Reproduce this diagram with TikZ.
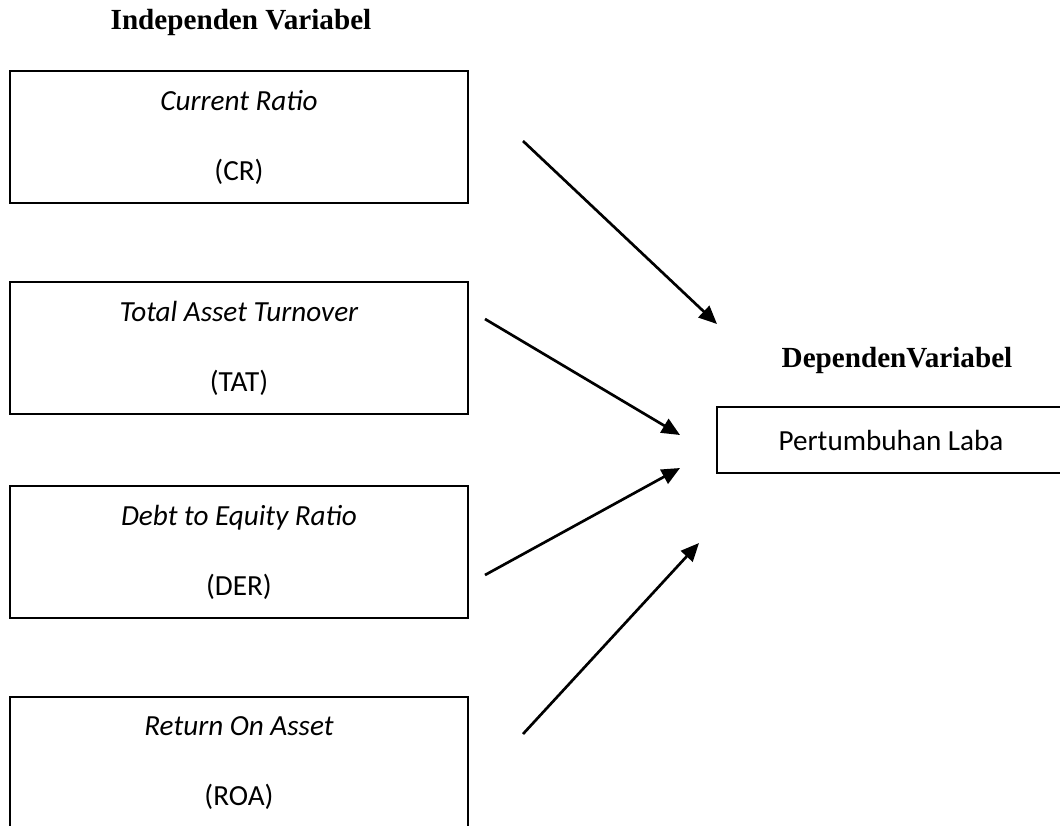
\documentclass[tikz,border=0pt]{standalone}
\usepackage{fontspec}
\setmainfont{Liberation Serif}
\newfontfamily\calibri{Carlito}
\usetikzlibrary{arrows.meta,positioning}

\begin{document}
\begin{tikzpicture}[x=0.4115pt,y=-0.4115pt,
  varbox/.style={draw,line width=0.8pt,minimum width=188.5pt,minimum height=54.3pt,
    inner sep=0pt,align=center,font=\calibri\fontsize{12}{14.4}\selectfont},
  depbox/.style={draw,line width=0.8pt,minimum width=143.2pt,minimum height=27.2pt,
    inner sep=0pt,font=\calibri\fontsize{12}{14.4}\selectfont},
  head/.style={font=\bfseries\fontsize{12}{14.4}\selectfont},
  arr/.style={-{Triangle[length=7.5pt,width=6.5pt]},line width=1.1pt}]
  \clip (0,0) rectangle (1060,825);

  % Independent variables
  \node[head] (indep) at (241,22) {Independen Variabel};
  \foreach \y/\nm/\lbl/\abbr in {137/cr/Current Ratio/CR,348/tat/Total Asset Turnover/TAT,
      552/der/Debt to Equity Ratio/DER,763/roa/Return On Asset/ROA}{
    \node[varbox] (\nm) at (239,\y) {\textit{\lbl}\\[14.4pt](\abbr)};
  }

  % Dependent variable
  \node[head] (dep) at (897,360) {DependenVariabel};
  \node[depbox] (laba) at (891,440) {Pertumbuhan Laba};

  % Arrows towards the dependent variable
  \coordinate (crS) at (523,141);  \coordinate (crE) at (717,324);
  \coordinate (tatS) at (485,319); \coordinate (tatE) at (680,435);
  \coordinate (derS) at (485,575); \coordinate (derE) at (680,468);
  \coordinate (roaS) at (523,734); \coordinate (roaE) at (699,543);
  \foreach \nm in {cr,tat,der,roa}{
    \draw[arr] (\nm S) -- (\nm E);
  }
\end{tikzpicture}
\end{document}
